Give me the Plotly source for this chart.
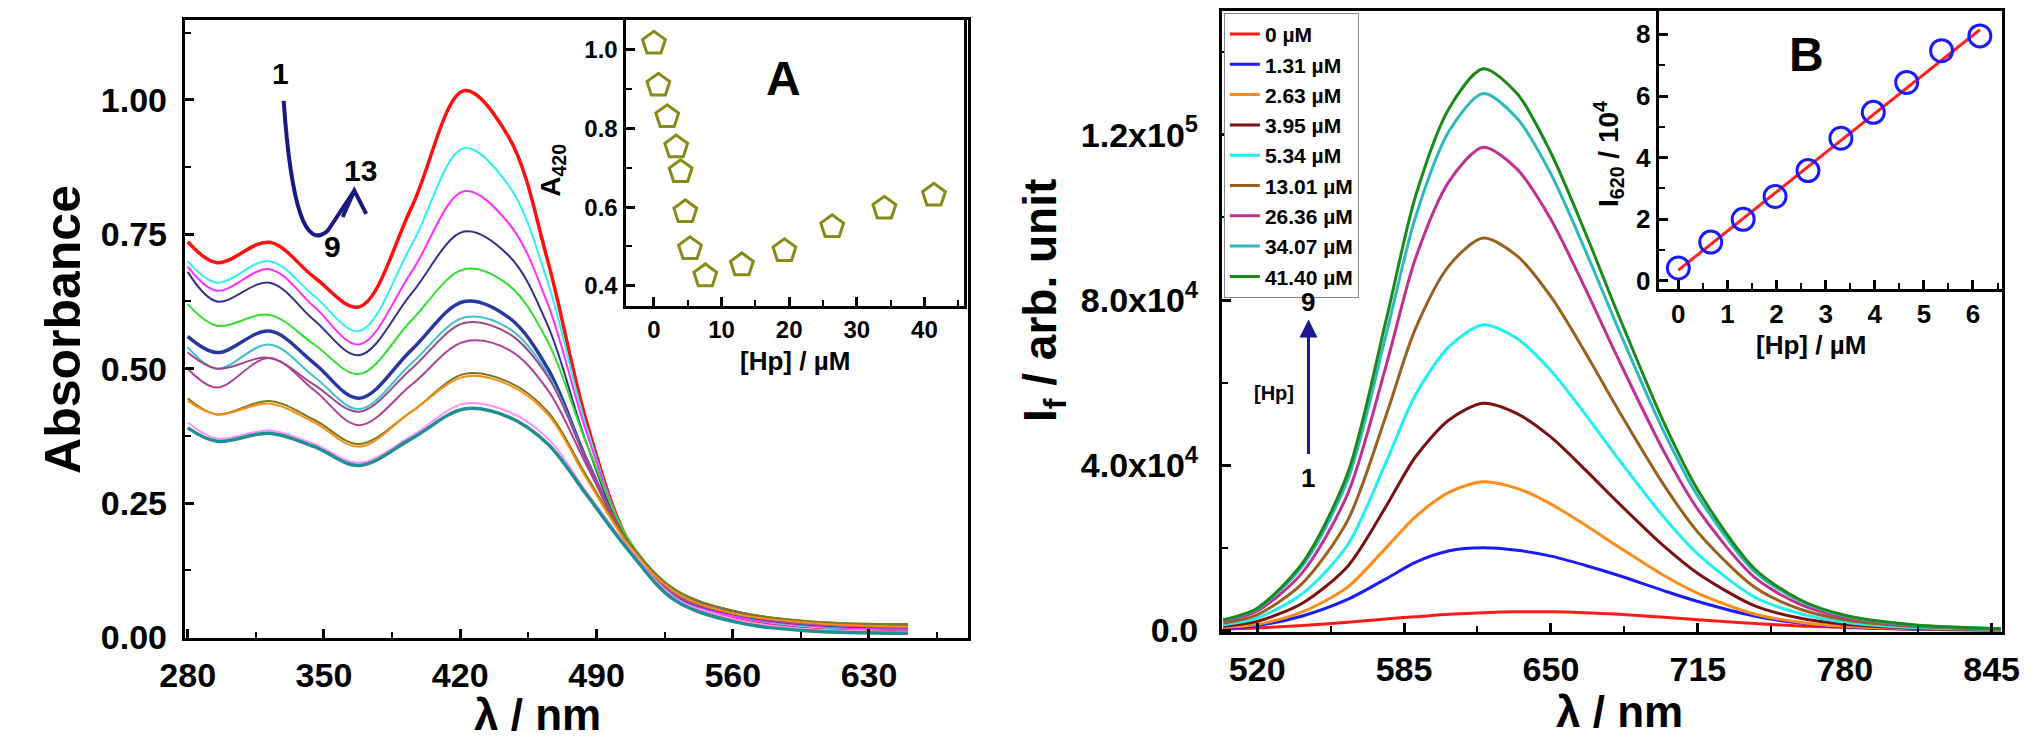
import plotly.graph_objects as go

W, H = 2033, 746
FONT = "Liberation Sans, Arial"

# ---------- Left: absorbance spectra ----------
abs_wl = [280, 295, 322, 345, 368, 395, 422, 445, 465, 485, 507, 530, 560, 600, 650]
abs_curves = [
    [.736, .697, .735, .67, .615, .80, 1.017, .93, .70, .40, .175, .075, .035, .02, .015],
    [.70, .66, .70, .635, .57, .73, .91, .84, .66, .39, .175, .08, .04, .02, .015],
    [.69, .645, .685, .615, .545, .68, .83, .77, .62, .38, .175, .08, .04, .022, .015],
    [.68, .625, .66, .59, .525, .64, .755, .71, .58, .36, .17, .08, .045, .025, .02],
    [.62, .58, .60, .545, .49, .59, .685, .655, .55, .36, .18, .09, .05, .03, .025],
    [.56, .53, .57, .51, .445, .535, .625, .595, .50, .33, .17, .08, .045, .025, .02],
    [.54, .50, .545, .485, .425, .51, .595, .575, .49, .33, .17, .08, .045, .025, .02],
    [.53, .50, .52, .47, .42, .50, .585, .565, .485, .33, .175, .085, .05, .028, .022],
    [.50, .465, .52, .46, .395, .47, .55, .535, .46, .32, .17, .08, .045, .025, .02],
    [.445, .415, .44, .405, .36, .42, .49, .475, .42, .30, .175, .09, .05, .03, .025],
    [.44, .415, .435, .40, .355, .42, .485, .47, .415, .295, .17, .085, .045, .027, .02],
    [.40, .37, .385, .36, .325, .375, .435, .42, .37, .27, .165, .075, .035, .015, .01],
    [.39, .365, .38, .355, .32, .37, .425, .41, .36, .265, .16, .07, .03, .012, .008],
]
abs_colors = ["#ff1010", "#30f0f0", "#ff30ff", "#303090", "#30e030", "#2838a0", "#40c0d0",
              "#9a4a8a", "#b04098", "#7a7a20", "#ff8c10", "#ff90ff", "#1f8f8f"]
abs_widths = [3.5, 2, 2, 2, 2, 3.5, 2, 2, 2, 2, 2, 2, 3.5]

# Inset A
a_conc = [0, 0.66, 1.97, 3.30, 3.95, 4.64, 5.34, 7.6, 13.01, 19.3, 26.36, 34.07, 41.40]
a_420 = [1.017, 0.91, 0.83, 0.753, 0.69, 0.588, 0.494, 0.425, 0.453, 0.489, 0.55, 0.597, 0.63]

# ---------- Right: emission spectra ----------
em_wl = [505, 520, 540, 560, 577, 590, 605, 620, 635, 650, 665, 680, 700, 715, 740, 760, 780, 810, 849]
em_labels = ["0 µM", "1.31 µM", "2.63 µM", "3.95 µM", "5.34 µM", "13.01 µM", "26.36 µM", "34.07 µM", "41.40 µM"]
em_curves_k = [
    [.3, .6, 1.2, 2, 2.8, 3.3, 3.9, 4.3, 4.5, 4.5, 4.3, 3.9, 3.2, 2.6, 1.7, 1.1, .7, .3, .05],
    [.5, 1.2, 3.5, 7.5, 12.5, 16.5, 19.3, 20, 19.4, 18, 15.8, 13.3, 9.6, 7, 3.5, 1.8, .9, .35, .1],
    [.7, 1.5, 4.5, 10.5, 20, 27.5, 33.5, 36, 34.4, 30.6, 25.6, 20.2, 13.3, 9, 4, 2, 1, .4, .1],
    [1, 2.2, 6.6, 15.5, 30, 42, 51, 55, 52.5, 46.8, 39, 30.8, 20.4, 13.8, 6, 3, 1.5, .55, .15],
    [1.4, 3, 8.9, 20.7, 40.7, 57, 68.8, 74, 70.7, 62.9, 52.5, 41.4, 27.4, 18.5, 8.1, 4.1, 2, .7, .2],
    [1.8, 3.8, 11.4, 26.6, 52, 73, 88.4, 95, 90.7, 80.8, 67.5, 53.2, 35.2, 23.8, 10.5, 5.2, 2.6, 1, .3],
    [2.2, 4.7, 14, 33, 64, 90, 108.8, 117, 111.7, 99.5, 83, 65.5, 43.3, 29.3, 12.9, 6.4, 3.2, 1.2, .35],
    [2.5, 5.2, 15.6, 36.4, 71.5, 100, 121, 130, 124, 110.5, 92.3, 72.8, 48.1, 32.5, 14.3, 7.2, 3.5, 1.3, .4],
    [2.6, 5.4, 16.3, 38, 75, 105, 126.5, 136, 130, 115.6, 96.6, 76.2, 50.3, 34, 15, 7.5, 3.7, 1.4, .4],
]
em_colors = ["#ff1a1a", "#1a1aff", "#ff8c1a", "#7a1010", "#20f0f0", "#9a6020", "#c03090", "#30b8c0", "#1a8a1a"]

# Inset B
b_conc = [0, 0.66, 1.32, 1.97, 2.64, 3.31, 3.97, 4.65, 5.36, 6.14]
b_i620 = [0.42, 1.26, 2.0, 2.74, 3.58, 4.63, 5.47, 6.44, 7.47, 7.95]
b_fit_x = [0, 6.14]
b_fit_y = [0.35, 8.15]

def px(x):
    return x / W

def py(y):
    return 1 - y / H

fig = go.Figure()
for ys, c, w in zip(abs_curves, abs_colors, abs_widths):
    fig.add_trace(go.Scatter(x=abs_wl, y=ys, mode="lines", line=dict(color=c, width=w, shape="spline"),
                             xaxis="x", yaxis="y", showlegend=False))
fig.add_trace(go.Scatter(x=a_conc, y=a_420, mode="markers", xaxis="x2", yaxis="y2", showlegend=False,
                         marker=dict(symbol="pentagon-open", size=24, color="#8a8a18", line=dict(width=3))))
for ys, c, name in zip(em_curves_k, em_colors, em_labels):
    fig.add_trace(go.Scatter(x=em_wl, y=[v * 1000 for v in ys], mode="lines", name=name,
                             line=dict(color=c, width=3, shape="spline", smoothing=0.8), xaxis="x3", yaxis="y3"))
fig.add_trace(go.Scatter(x=b_fit_x, y=b_fit_y, mode="lines", line=dict(color="#ff2020", width=3),
                         xaxis="x4", yaxis="y4", showlegend=False))
fig.add_trace(go.Scatter(x=b_conc, y=b_i620, mode="markers", xaxis="x4", yaxis="y4", showlegend=False,
                         marker=dict(symbol="circle-open", size=22, color="#1a1aff", line=dict(width=3))))

def ax(domain, rng, dtick, minor, anchor, tsize, **kw):
    d = dict(domain=domain, range=rng, dtick=dtick, anchor=anchor, showline=True, linewidth=3,
             linecolor="black", mirror=True, ticks="inside", ticklen=9, tickwidth=2.5, tickcolor="black",
             showgrid=False, zeroline=False, tickfont=dict(size=tsize, family=FONT, color="black", weight="bold"),
             minor=dict(dtick=minor, ticks="inside", ticklen=6, tickwidth=2, tickcolor="black"))
    d.update(kw)
    return d

fig.update_layout(
    width=W, height=H, margin=dict(l=0, r=0, t=0, b=0),
    paper_bgcolor="white", plot_bgcolor="white",
    xaxis=ax([px(155), px(955)], [278.5, 681], 70, 35, "y", 34, tick0=280, ticklabelstandoff=6),
    yaxis=ax([py(646), py(12)], [0, 1.149], 0.25, 0.125, "x", 34, tickformat=".2f", ticklabelstandoff=8),
    xaxis2=ax([px(605), px(951)], [-4.2, 45.9], 10, 5, "y2", 24),
    yaxis2=ax([py(306), py(12)], [0.348, 1.077], 0.2, 0.1, "x2", 24, tickformat=".1f"),
    xaxis3=ax([px(1214), px(2011)], [504.4, 849.8], 65, 32.5, "y3", 34, tick0=520, ticklabelstandoff=6),
    yaxis3=ax([py(640), py(3)], [-300, 150000], None, 20000, "x3", 34, ticklabelstandoff=14,
              tickvals=[0, 40000, 80000, 120000],
              ticktext=["0.0", "4.0x10<sup>4</sup>", "8.0x10<sup>4</sup>", "1.2x10<sup>5</sup>"]),
    xaxis4=ax([px(1660), px(2011)], [-0.4, 6.6], 1, 0.5, "y4", 26),
    yaxis4=ax([py(288), py(3)], [-0.25, 8.76], 2, 1, "x4", 26),
    legend=dict(x=px(1216), y=py(5), xanchor="left", yanchor="top", bgcolor="white",
                bordercolor="#888888", borderwidth=1, tracegroupgap=0,
                font=dict(size=21, family=FONT, color="black", weight="bold")),
)

def txt(x, y, s, size, xref="paper", yref="paper", angle=0):
    fig.add_annotation(x=x, y=y, xref=xref, yref=yref, text=s, showarrow=False, textangle=angle,
                       xanchor="center", yanchor="middle",
                       font=dict(size=size, family=FONT, color="black", weight="bold"))

txt(px(30), py(330), "Absorbance", 50, angle=-90)
txt(px(515), py(725), "λ / nm", 44)
txt(px(531), py(167), "A<sub>420</sub>", 28, angle=-90)
txt(px(778), py(362), "[Hp] / µM", 26)
txt(px(766), py(72), "A", 48)
txt(px(1032), py(300), "I<sub>f</sub> / arb. unit", 46, angle=-90)
txt(px(1620), py(722), "λ / nm", 44)
txt(px(1609), py(150), "I<sub>620</sub> / 10<sup>4</sup>", 28, angle=-90)
txt(px(1815), py(346), "[Hp] / µM", 26)
txt(px(1811), py(48), "B", 48)

# Left curved arrow 1 -> 9 -> 13
fig.add_shape(type="path", xref="x", yref="y",
              path="M 329.3,0.998 Q 335,0.70 352,0.757 L 365.6,0.831",
              line=dict(color="#1a1a80", width=4))
fig.add_shape(type="path", xref="x", yref="y",
              path="M 359.6,0.782 L 365.6,0.831 L 371.7,0.788",
              line=dict(color="#1a1a80", width=4))
txt(327.5, 1.049, "1", 30, "x", "y")
txt(369, 0.868, "13", 30, "x", "y")
txt(354.5, 0.727, "9", 30, "x", "y")

# Right arrow 1 -> 9
fig.add_annotation(x=542.7, y=75300, ax=542.7, ay=42350, xref="x3", yref="y3", axref="x3", ayref="y3",
                   text="", showarrow=True, arrowhead=2, arrowsize=1.2, arrowwidth=3, arrowcolor="#1a1a90")
txt(542.7, 37000, "1", 26, "x3", "y3")
txt(542.7, 79500, "9", 26, "x3", "y3")
txt(527.5, 57600, "[Hp]", 20, "x3", "y3")

fig.write_html("out.html")
